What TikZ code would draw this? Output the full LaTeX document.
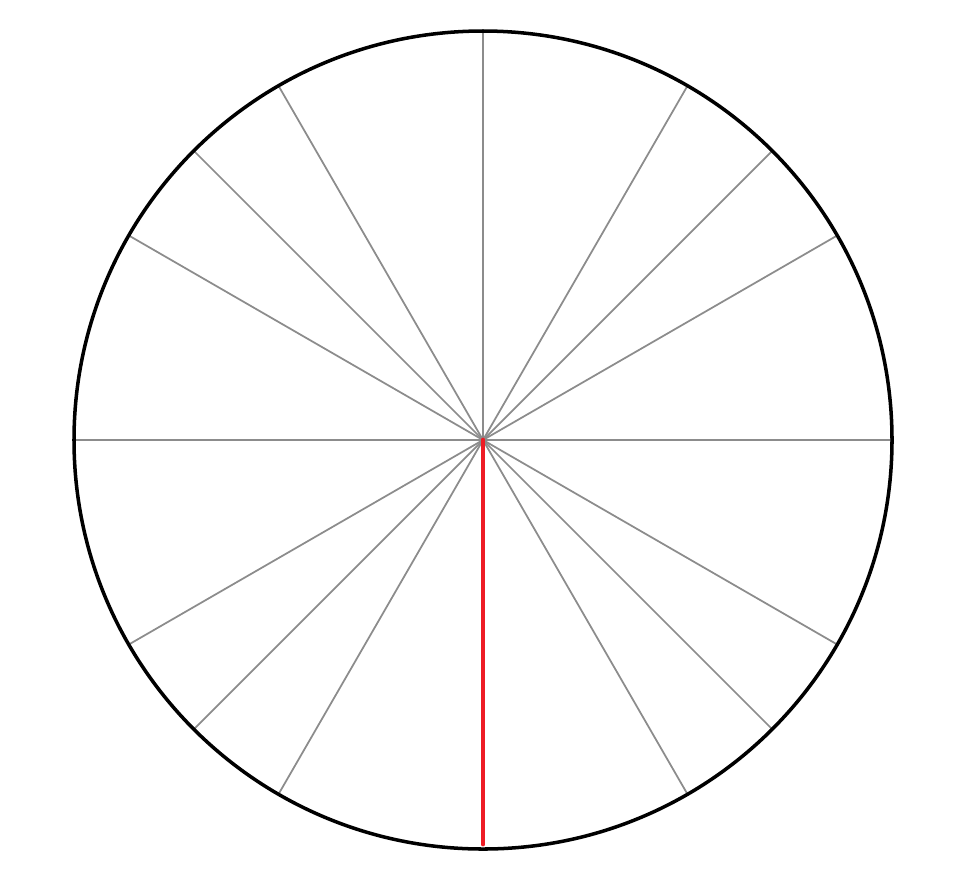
\documentclass[tikz,border=0pt]{standalone}
\usepackage{tikz}
\usetikzlibrary{calc}
\definecolor{spokegray}{HTML}{8C8C8C}
\definecolor{hand}{HTML}{EE1C25}
\begin{document}
\begin{tikzpicture}[x=1cm,y=1cm,
  rim/.style={draw=black,line width=1pt},
  spoke/.style={draw=spokegray,line width=0.5pt},
  handline/.style={draw=hand,line width=1.4pt,line cap=round}]
  \useasboundingbox (0,0) rectangle (9.56,8.82);
  \coordinate (c) at (4.83,4.42);
  % spokes
  \foreach \a in {0,30,45,60,90,120,135,150,180,210,225,240,300,315,330}
    \draw[spoke] (c) -- ++(\a:4.09);
  \coordinate (tip) at ($(c)+(270:4.04)$);
  \draw[handline] (c) -- (tip);
  \draw[rim] (c) circle[radius=4.09];
\end{tikzpicture}
\end{document}
